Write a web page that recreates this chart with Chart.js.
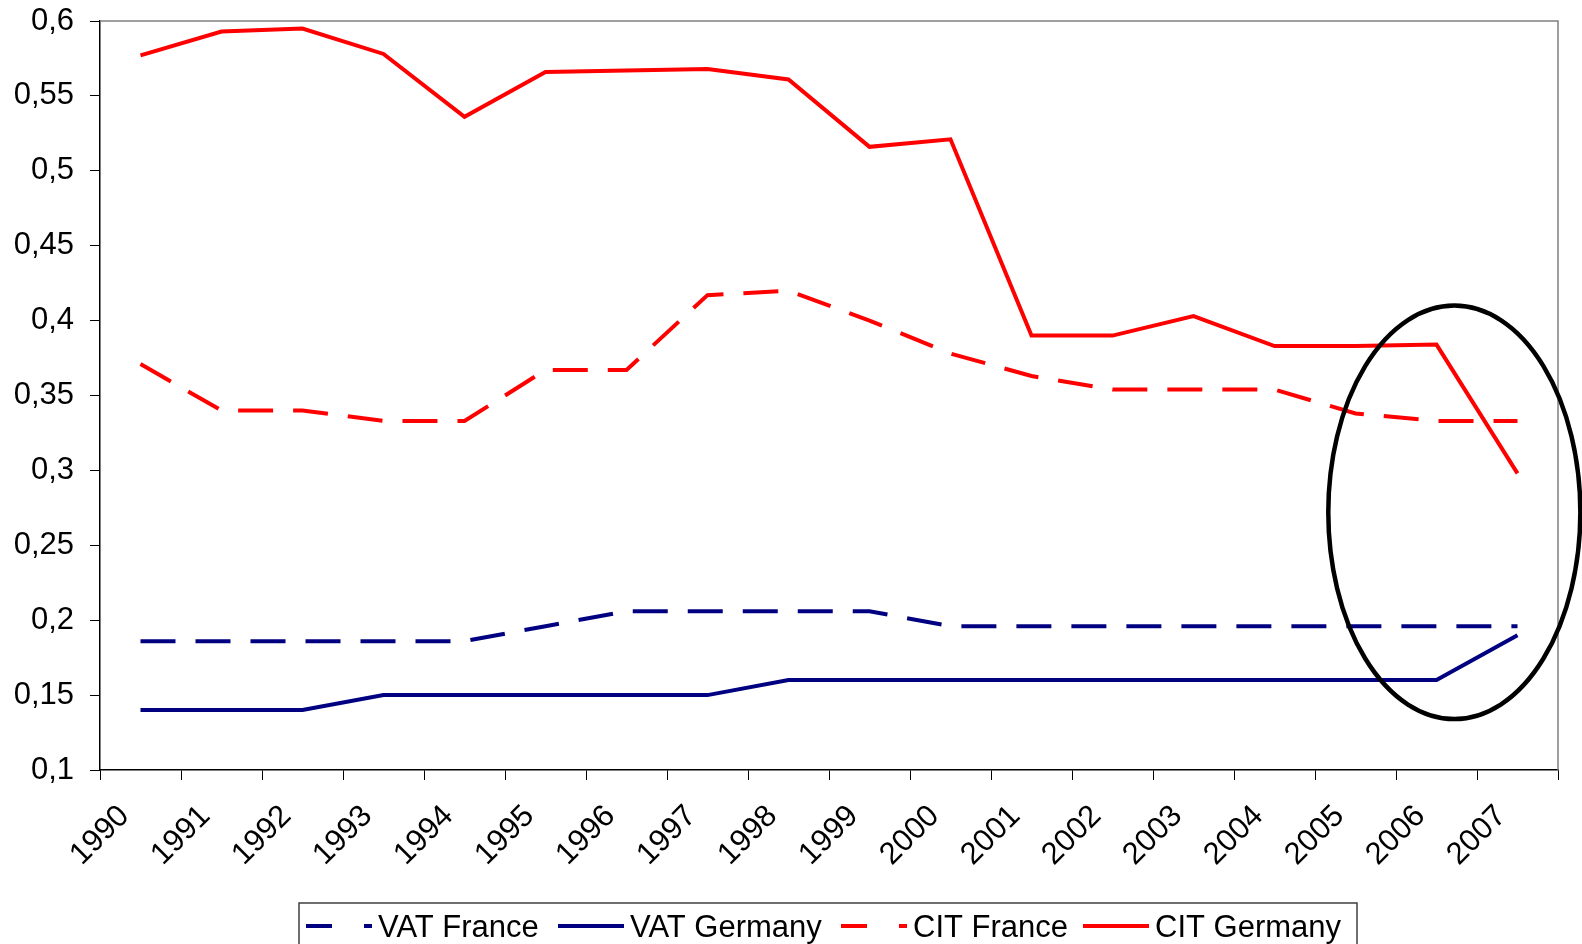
<!DOCTYPE html>
<html>
<head>
<meta charset="utf-8">
<script src="https://cdn.jsdelivr.net/npm/chart.js@4/dist/chart.umd.min.js"></script>
<style>
  html, body { margin: 0; padding: 0; background: #fff; }
  #wrap { width: 1582px; height: 944px; position: relative; }
</style>
</head>
<body>
<div id="wrap"><canvas id="taxChart"></canvas></div>
<script>
// Tax rates, France vs Germany
const years = ['1990', '1991', '1992', '1993', '1994', '1995', '1996', '1997', '1998',
               '1999', '2000', '2001', '2002', '2003', '2004', '2005', '2006', '2007'];

const vatFrance  = [0.186, 0.186, 0.186, 0.186, 0.186, 0.196, 0.206, 0.206, 0.206,
                    0.206, 0.196, 0.196, 0.196, 0.196, 0.196, 0.196, 0.196, 0.196];
const vatGermany = [0.14, 0.14, 0.14, 0.15, 0.15, 0.15, 0.15, 0.15, 0.16,
                    0.16, 0.16, 0.16, 0.16, 0.16, 0.16, 0.16, 0.16, 0.19];
const citFrance  = [0.371, 0.34, 0.34, 0.333, 0.333, 0.367, 0.367, 0.417, 0.42,
                    0.4, 0.378, 0.363, 0.354, 0.354, 0.354, 0.338, 0.333, 0.333];
const citGermany = [0.577, 0.593, 0.595, 0.578, 0.536, 0.566, 0.567, 0.568, 0.561,
                    0.516, 0.521, 0.39, 0.39, 0.403, 0.383, 0.383, 0.384, 0.298];

const yTicks = [0.1, 0.15, 0.2, 0.25, 0.3, 0.35, 0.4, 0.45, 0.5, 0.55, 0.6];

const NAVY = '#000080';
const RED = '#ff0000';
const DASH = [35, 20];
const FONT = 'Liberation Sans, Arial, sans-serif';

// circled area (2006-2007), in category index / value units
const highlight = { x: 16.22, y: 0.272, rx: 1.556, ry: 0.138 };

// left edge of each legend entry
const legendX = [306, 558, 841, 1083];

function formatTick(v) {
    return String(Number(v.toFixed(2))).replace('.', ',');
}

// gray frame on the top and right of the plot area
const plotFrame = {
    id: 'plotFrame',
    beforeDatasetsDraw(chart) {
        const { ctx, chartArea: a } = chart;
        ctx.save();
        ctx.strokeStyle = '#808080';
        ctx.lineWidth = 1.5;
        ctx.beginPath();
        ctx.moveTo(a.left, a.top);
        ctx.lineTo(a.right, a.top);
        ctx.lineTo(a.right, a.bottom);
        ctx.stroke();
        ctx.restore();
    }
};

const ellipseMark = {
    id: 'ellipseMark',
    afterDatasetsDraw(chart) {
        const { ctx, scales } = chart;
        const cx = scales.x.getPixelForValue(highlight.x);
        const cy = scales.y.getPixelForValue(highlight.y);
        const rx = scales.x.getPixelForValue(highlight.x + highlight.rx) - cx;
        const ry = cy - scales.y.getPixelForValue(highlight.y + highlight.ry);
        ctx.save();
        ctx.strokeStyle = '#000';
        ctx.lineWidth = 4.5;
        ctx.beginPath();
        ctx.ellipse(cx, cy, rx, ry, 0, 0, Math.PI * 2);
        ctx.stroke();
        ctx.restore();
    }
};

// boxed legend under the axis labels
const boxLegend = {
    id: 'boxLegend',
    afterDraw(chart) {
        const ctx = chart.ctx;
        const top = 903;
        const mid = 926;
        const sample = 66;
        ctx.save();
        ctx.strokeStyle = '#404040';
        ctx.lineWidth = 1.5;
        ctx.strokeRect(299, top, 1058, 80);

        ctx.font = '31px ' + FONT;
        ctx.textBaseline = 'middle';
        ctx.fillStyle = '#000';
        chart.data.datasets.forEach((ds, i) => {
            const x = legendX[i];
            ctx.strokeStyle = ds.borderColor;
            ctx.lineWidth = 4;
            ctx.setLineDash(ds.borderDash.length ? [26, 32] : []);
            ctx.beginPath();
            ctx.moveTo(x, mid);
            ctx.lineTo(x + sample, mid);
            ctx.stroke();
            ctx.setLineDash([]);
            ctx.fillText(ds.label, x + sample + 6, mid + 2);
        });
        ctx.restore();
    }
};

function lineSet(label, data, color, dashed) {
    return {
        label: label,
        data: data,
        borderColor: color,
        backgroundColor: color,
        borderWidth: 4,
        borderDash: dashed ? DASH : [],
        pointRadius: 0,
        pointHoverRadius: 0,
        tension: 0,
        fill: false
    };
}

const ctx = document.getElementById('taxChart').getContext('2d');
new Chart(ctx, {
    type: 'line',
    data: {
        labels: years,
        datasets: [
            lineSet('VAT France', vatFrance, NAVY, true),
            lineSet('VAT Germany', vatGermany, NAVY, false),
            lineSet('CIT France', citFrance, RED, true),
            lineSet('CIT Germany', citGermany, RED, false)
        ]
    },
    options: {
        responsive: true,
        maintainAspectRatio: false,
        animation: false,
        layout: {
            padding: { left: 0, right: 24, top: 21, bottom: 0 }
        },
        plugins: {
            legend: { display: false },
            tooltip: { enabled: false }
        },
        scales: {
            x: {
                offset: true,
                grid: {
                    offset: true,
                    drawOnChartArea: false,
                    drawTicks: true,
                    tickLength: 10,
                    color: '#000'
                },
                border: { color: '#000', width: 1.5 },
                ticks: {
                    autoSkip: false,
                    minRotation: 45,
                    maxRotation: 45,
                    labelOffset: -16,
                    padding: 18,
                    color: '#000',
                    font: { family: FONT, size: 31 }
                },
                afterFit(scale) {
                    scale.height = 174;
                    scale.paddingLeft = 0;
                    scale.paddingRight = 0;
                }
            },
            y: {
                min: 0.1,
                max: 0.6,
                grid: {
                    drawOnChartArea: false,
                    drawTicks: true,
                    tickLength: 10,
                    color: '#000'
                },
                border: { color: '#000', width: 1.5 },
                ticks: {
                    padding: 16,
                    color: '#000',
                    font: { family: FONT, size: 31 },
                    callback: value => formatTick(value)
                },
                afterBuildTicks(scale) {
                    scale.ticks = yTicks.map(v => ({ value: v }));
                },
                afterFit(scale) {
                    scale.width = 100;
                    scale.paddingTop = 0;
                    scale.paddingBottom = 0;
                }
            }
        }
    },
    plugins: [plotFrame, ellipseMark, boxLegend]
});
</script>
</body>
</html>
